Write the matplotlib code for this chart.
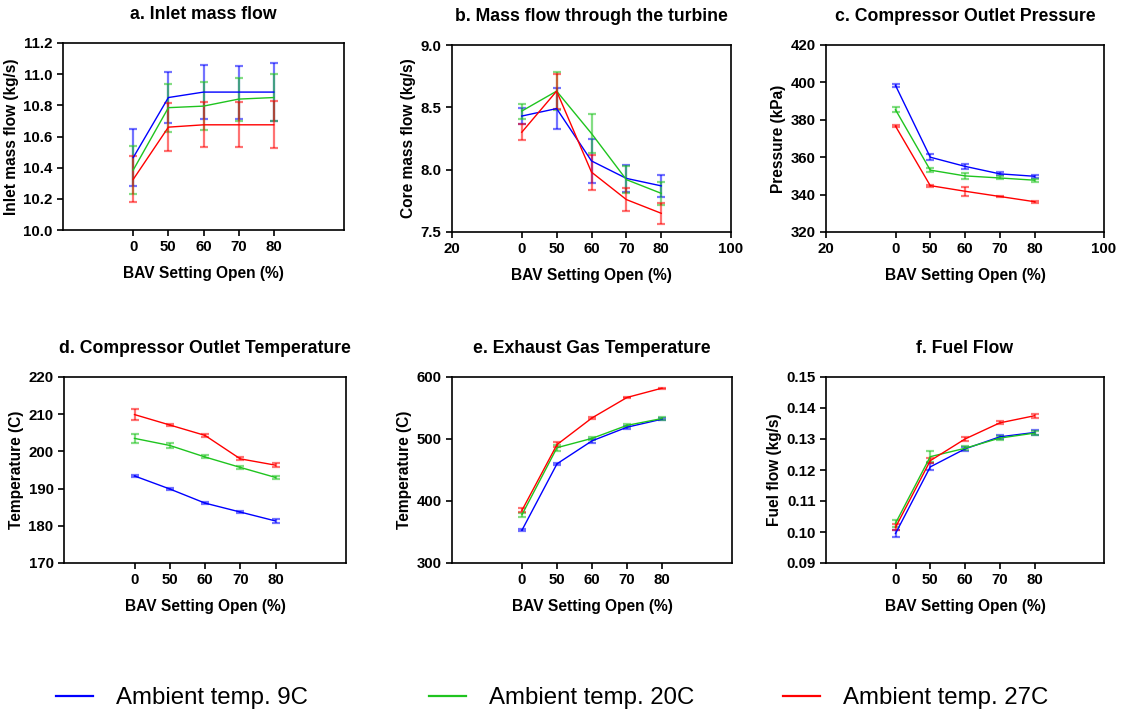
"""Six-panel engine response to BAV opening at three ambient temperatures."""

import matplotlib

matplotlib.use("Agg")
import matplotlib.pyplot as plt

plt.rcParams["font.family"] = ["Liberation Sans", "DejaVu Sans"]

BAV_LABELS = ["0", "50", "60", "70", "80"]
SERIES = ["Ambient temp. 9C", "Ambient temp. 20C", "Ambient temp. 27C"]
COLORS = ["#0000ff", "#1fc41f", "#ff0000"]

# one row per series: 9C, 20C, 27C
INLET_MEAN = [[10.465, 10.85, 10.885, 10.885, 10.885],
              [10.385, 10.785, 10.795, 10.84, 10.85],
              [10.325, 10.66, 10.675, 10.675, 10.675]]
INLET_ERR = [[0.18, 0.165, 0.175, 0.17, 0.185],
             [0.153, 0.155, 0.153, 0.138, 0.153],
             [0.148, 0.152, 0.145, 0.145, 0.15]]

CORE_MEAN = [[8.43, 8.49, 8.07, 7.93, 7.87],
             [8.47, 8.63, 8.29, 7.92, 7.81],
             [8.30, 8.63, 7.98, 7.76, 7.65]]
CORE_ERR = [[0.067, 0.165, 0.18, 0.11, 0.09],
            [0.06, 0.15, 0.16, 0.11, 0.09],
            [0.065, 0.14, 0.14, 0.09, 0.086]]

PRESS_MEAN = [[398.4, 360.0, 355.1, 351.1, 349.8],
              [385.4, 353.1, 350.0, 348.9, 347.7],
              [376.6, 344.8, 341.8, 339.0, 336.2]]
PRESS_ERR = [[1.0, 1.5, 1.2, 0.8, 0.8],
             [1.2, 1.2, 1.5, 0.8, 0.8],
             [0.5, 0.5, 2.5, 0.4, 0.5]]

CDT_MEAN = [[193.4, 189.9, 186.1, 183.7, 181.3],
            [203.5, 201.6, 198.5, 195.7, 193.0],
            [209.9, 207.1, 204.3, 198.0, 196.3]]
CDT_ERR = [[0.2, 0.3, 0.3, 0.3, 0.6],
           [1.2, 0.7, 0.4, 0.5, 0.3],
           [1.5, 0.3, 0.3, 0.4, 0.5]]

EGT_MEAN = [[353, 460, 497, 519, 532],
            [378, 486, 501, 522, 533],
            [385, 491, 534, 567, 582]]
EGT_ERR = [[2, 2, 3, 2.5, 2],
           [3, 5, 2, 2, 2],
           [3, 4, 2, 1.5, 1]]

FUEL_MEAN = [[0.0995, 0.1210, 0.1268, 0.1307, 0.1321],
             [0.1028, 0.1243, 0.1270, 0.1303, 0.1319],
             [0.1015, 0.1230, 0.1300, 0.1352, 0.1375]]
FUEL_ERR = [[0.0012, 0.0011, 0.0007, 0.0007, 0.0009],
            [0.0012, 0.0018, 0.0007, 0.0006, 0.0007],
            [0.0010, 0.0008, 0.0006, 0.0005, 0.0007]]

W, H = 1121, 717


def _rect(left, right, top, bottom):
    return [left / W, 1 - bottom / H, (right - left) / W, (bottom - top) / H]


def _panel(fig, rect, means, errs, title, ylabel, ylim, yticks, ytick_fmt, ends=False):
    ax = fig.add_axes(rect)
    x = list(range(1, len(BAV_LABELS) + 1))
    for mean, err, color in zip(means, errs, COLORS):
        ax.plot(x, mean, color=color, lw=1.0, zorder=3)
        _, caps, bars = ax.errorbar(x, mean, yerr=err, fmt="none", ecolor=color,
                                    elinewidth=1.6, capsize=3.2, capthick=1.6, zorder=2)
        for c in caps:
            c.set_alpha(0.55)
        for b in bars:
            b.set_alpha(0.55)
    ax.set_xlim(-1, 7)
    ticks, labels = x, BAV_LABELS
    if ends:
        ticks = [-1] + x + [7]
        labels = ["20"] + BAV_LABELS + ["100"]
    ax.set_xticks(ticks)
    ax.set_xticklabels(labels)
    ax.set_ylim(*ylim)
    ax.set_yticks(yticks)
    ax.set_yticklabels([ytick_fmt.format(v) for v in yticks])
    ax.set_title(title, fontsize=12.7, fontweight="bold", pad=17)
    ax.set_xlabel("BAV Setting Open (%)", fontsize=11.2, fontweight="bold", labelpad=8)
    ax.set_ylabel(ylabel, fontsize=11.2, fontweight="bold", labelpad=3)
    ax.tick_params(length=4.5, width=1.2, labelsize=10.8, pad=3)
    for lab in ax.get_xticklabels() + ax.get_yticklabels():
        lab.set_fontweight("bold")
    for sp in ax.spines.values():
        sp.set_linewidth(1.2)
    return ax


def main():
    fig = plt.figure(figsize=(W / 100, H / 100), dpi=100)

    _panel(fig, _rect(63, 344, 43, 230), INLET_MEAN, INLET_ERR,
           "a. Inlet mass flow", "Inlet mass flow (kg/s)",
           (10.0, 11.2), [10.0, 10.2, 10.4, 10.6, 10.8, 11.0, 11.2], "{:.1f}")
    _panel(fig, _rect(452, 731, 45, 232), CORE_MEAN, CORE_ERR,
           "b. Mass flow through the turbine", "Core mass flow (kg/s)",
           (7.5, 9.0), [7.5, 8.0, 8.5, 9.0], "{:.1f}", ends=True)
    _panel(fig, _rect(826, 1104, 45, 232), PRESS_MEAN, PRESS_ERR,
           "c. Compressor Outlet Pressure", "Pressure (kPa)",
           (320, 420), [320, 340, 360, 380, 400, 420], "{:.0f}", ends=True)
    _panel(fig, _rect(64, 346, 377, 563), CDT_MEAN, CDT_ERR,
           "d. Compressor Outlet Temperature", "Temperature (C)",
           (170, 220), [170, 180, 190, 200, 210, 220], "{:.0f}")
    _panel(fig, _rect(452, 732, 377, 563), EGT_MEAN, EGT_ERR,
           "e. Exhaust Gas Temperature", "Temperature (C)",
           (300, 600), [300, 400, 500, 600], "{:.0f}")
    _panel(fig, _rect(826, 1104, 377, 563), FUEL_MEAN, FUEL_ERR,
           "f. Fuel Flow", "Fuel flow (kg/s)",
           (0.09, 0.15), [0.09, 0.10, 0.11, 0.12, 0.13, 0.14, 0.15], "{:.2f}")

    # legend entries sit at fixed spots along the bottom, like the original
    for label, color, left in zip(SERIES, COLORS, (56, 429, 783)):
        handle = plt.Line2D([], [], color=color, lw=1.6)
        fig.legend(handles=[handle], labels=[label], loc="center left",
                   bbox_to_anchor=(left / W, 1 - 698 / H), frameon=False,
                   fontsize=17.3, handlelength=1.55, handletextpad=0.95,
                   borderpad=0, borderaxespad=0)

    fig.savefig("out.png", dpi=100)
    plt.close(fig)


if __name__ == "__main__":
    main()
